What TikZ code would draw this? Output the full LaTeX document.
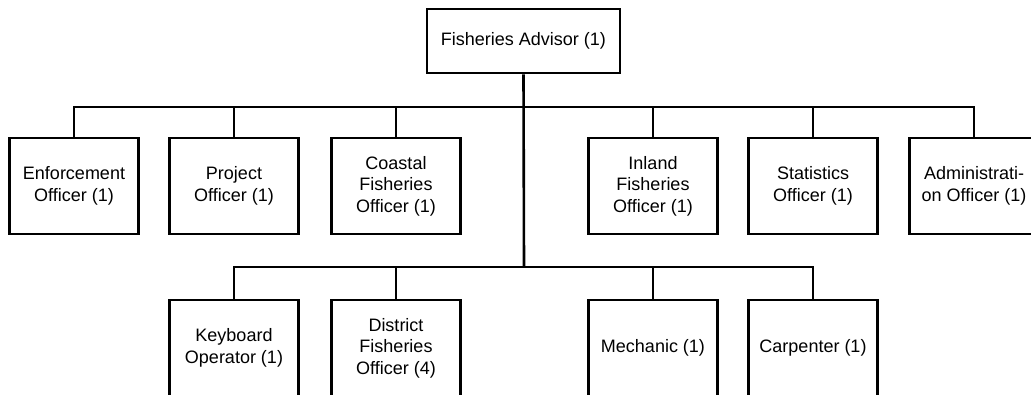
\documentclass[tikz,border=0pt]{standalone}
\usepackage{fontspec}
\setmainfont{Liberation Sans}
\begin{document}
\begin{tikzpicture}[x=1pt,y=1pt,
  post/.style={draw=black, line width=2.6pt, fill=white, inner sep=0pt,
    minimum width=129pt, minimum height=96pt, align=center,
    font=\fontsize{18}{21.6}\selectfont},
  headpost/.style={post, minimum width=193pt, minimum height=64pt},
  link/.style={draw=black, line width=2.6pt}]
\path[use as bounding box] (0,0) rectangle (1031,-394);
\clip (0,0) rectangle (1031,-394);

% head of the unit
\node[headpost] (adv) at (523.5,-41) {Fisheries Advisor (1)};

% bus lines
\coordinate (bus1) at (524,-107);
\coordinate (bus2) at (524,-267);

% first level
\node[post] (enf)  at (74,-186)  {Enforcement\\Officer (1)};
\node[post] (proj) at (234,-186) {Project\\Officer (1)};
\node[post] (cfo)  at (396,-186) {Coastal\\Fisheries\\Officer (1)};
\node[post] (ifo)  at (653,-186) {Inland\\Fisheries\\Officer (1)};
\node[post] (stat) at (813,-186) {Statistics\\Officer (1)};
\node[post] (adm)  at (974,-186) {Administrati-\\on Officer (1)};

% second level
\node[post] (kbd)  at (234,-348) {Keyboard\\Operator (1)};
\node[post] (dfo)  at (396,-348) {District\\Fisheries\\Officer (4)};
\node[post] (mech) at (653,-348) {Mechanic (1)};
\node[post] (carp) at (813,-348) {Carpenter (1)};

% connectors
\draw[link] (adv.south) -- (bus2);
\draw[link] (enf.north) |- (bus1) -| (adm.north);
\foreach \n in {proj,cfo,ifo,stat}
  \draw[link] (\n.north) -- (\n.north |- bus1);
\draw[link] (kbd.north) |- (bus2) -| (carp.north);
\foreach \n in {dfo,mech}
  \draw[link] (\n.north) -- (\n.north |- bus2);
\end{tikzpicture}
\end{document}
